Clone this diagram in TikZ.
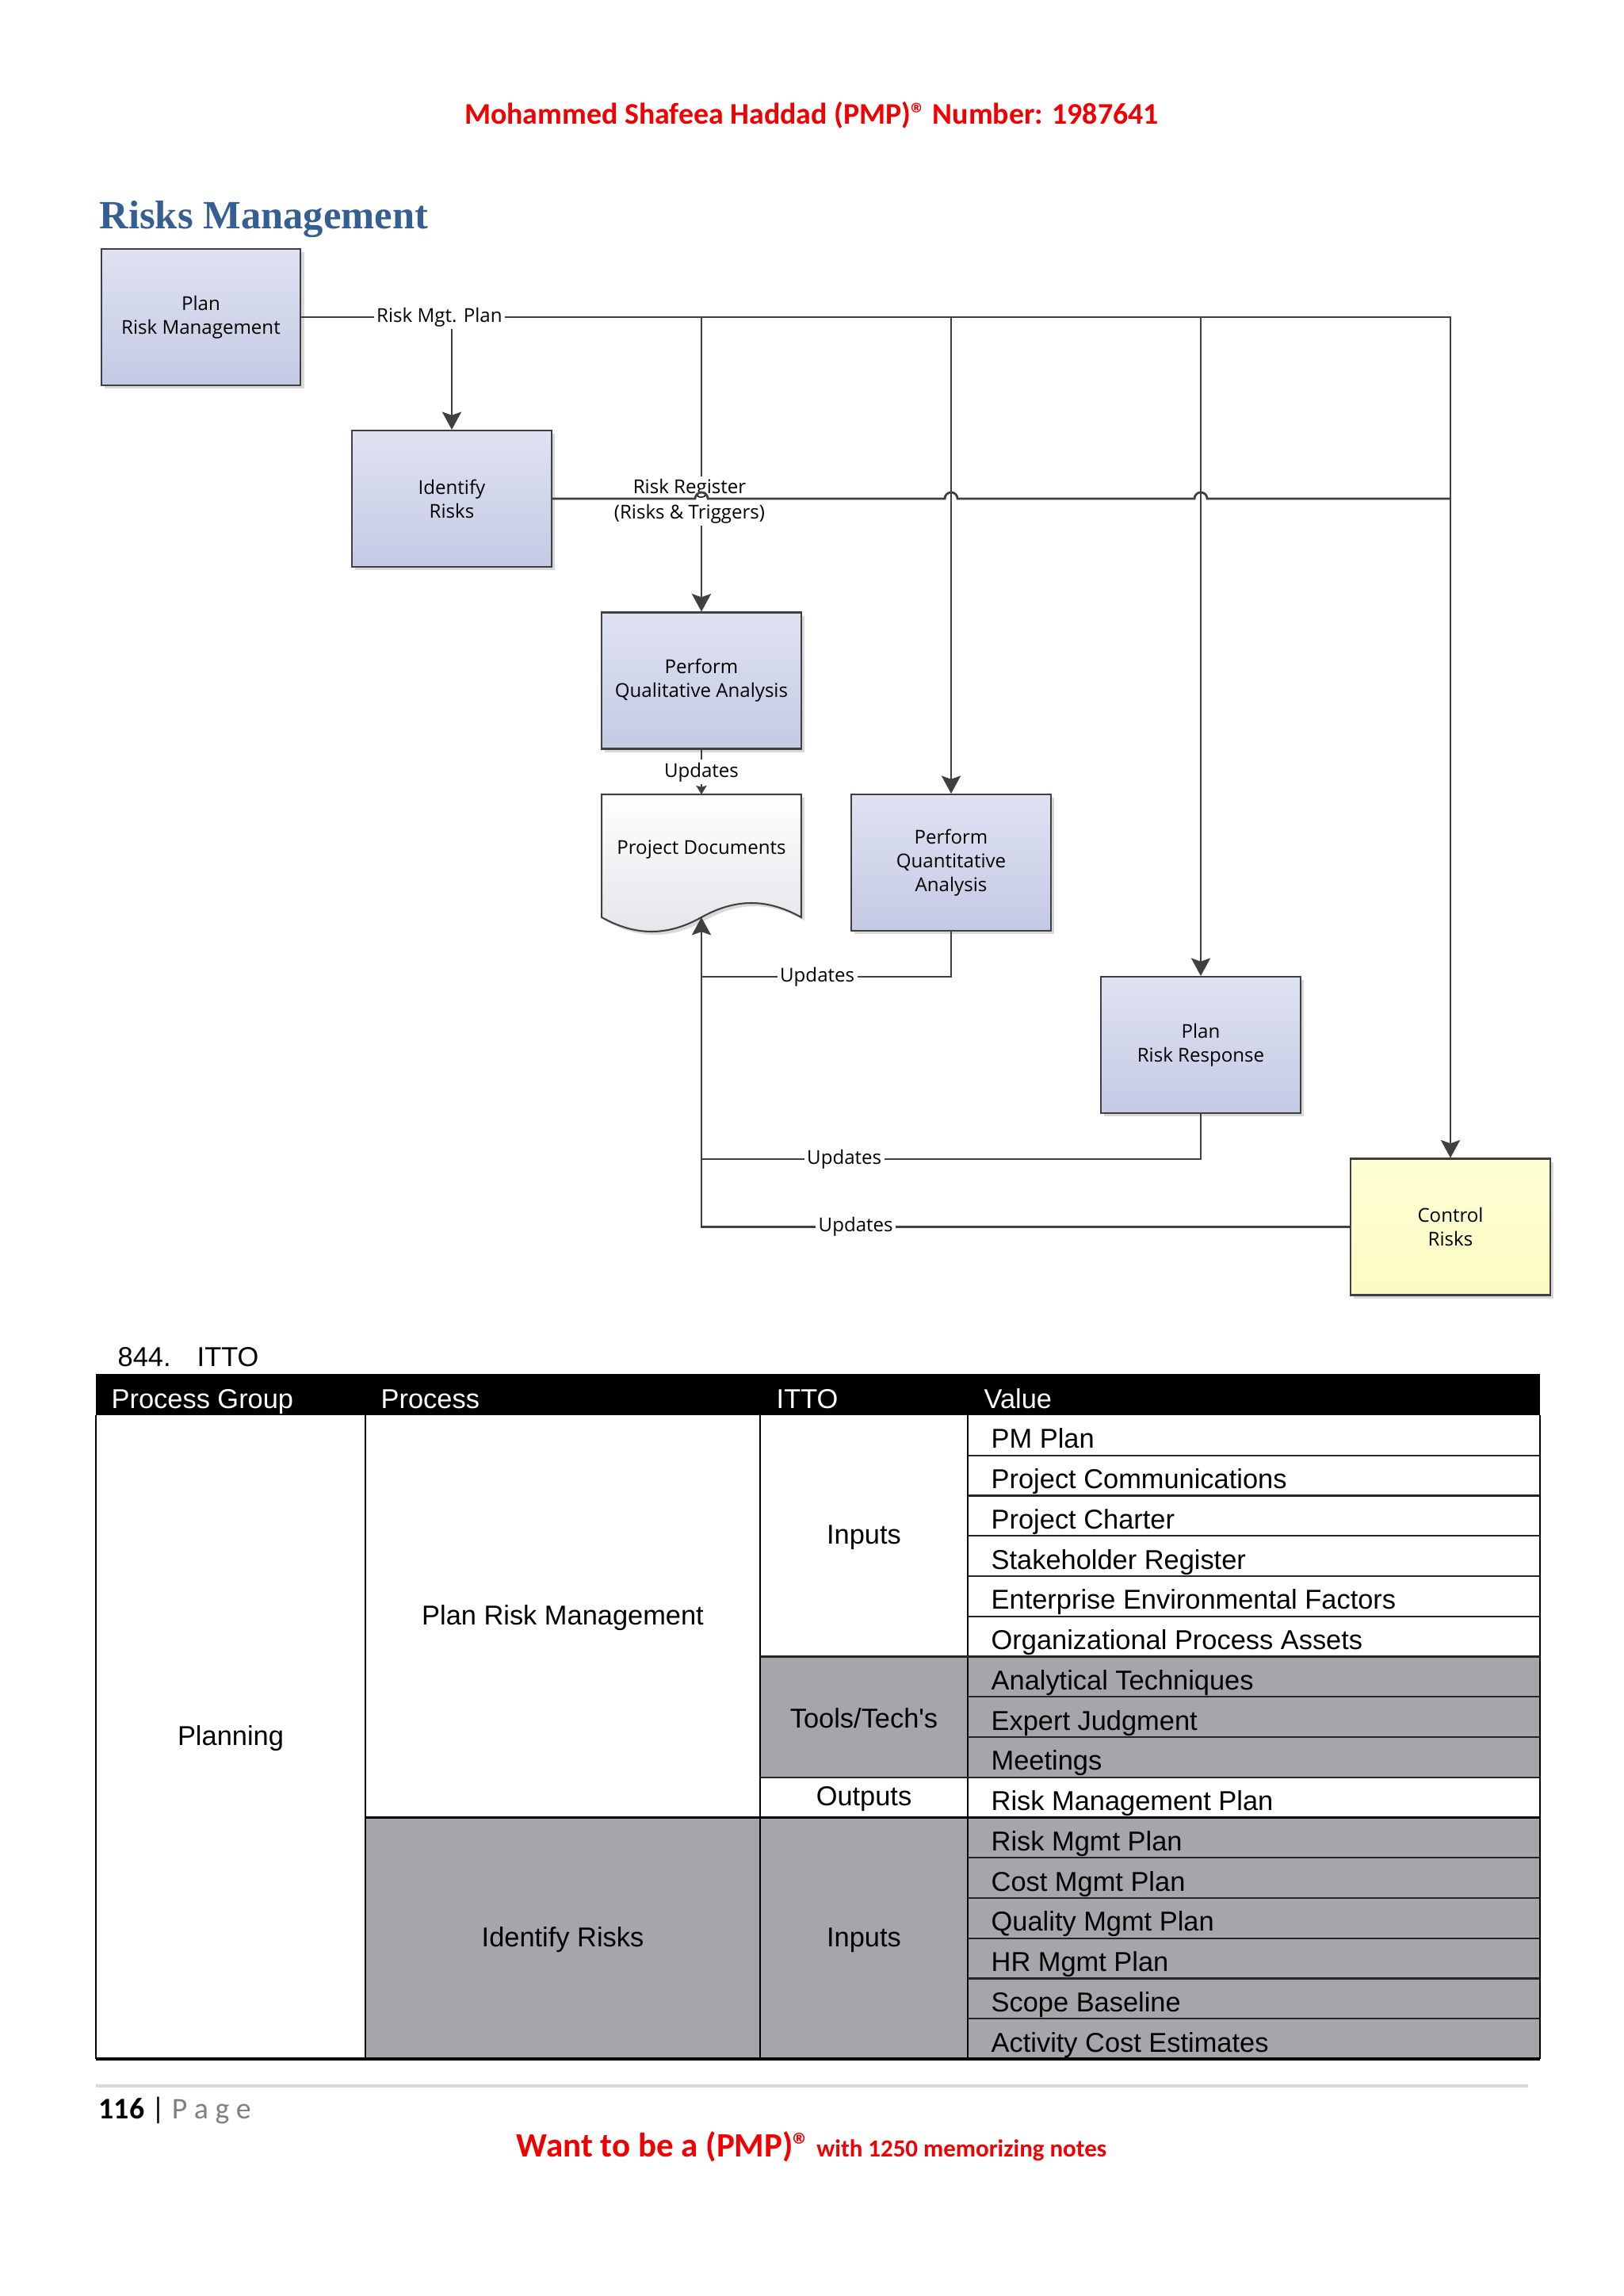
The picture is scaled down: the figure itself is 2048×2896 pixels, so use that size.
\documentclass[tikz,border=0pt]{standalone}
\usepackage{fontspec}
\setmainfont{Carlito}
\newfontfamily\boxfont{Open Sans}
\newfontfamily\tablefont{Liberation Sans}
\newfontfamily\headfont{Liberation Serif}
\usepackage{xcolor}
\usepackage{tikz}
\usetikzlibrary{arrows.meta,calc,shadows}
\definecolor{titleblue}{RGB}{54,95,145}
\definecolor{linegray}{RGB}{64,64,64}
\definecolor{boxtop}{RGB}{223,226,241}
\definecolor{boxbot}{RGB}{196,202,228}
\definecolor{ctltop}{RGB}{255,255,214}
\definecolor{ctlbot}{RGB}{251,251,194}
\definecolor{doctop}{RGB}{255,255,255}
\definecolor{docbot}{RGB}{228,228,234}
\definecolor{cellgray}{RGB}{166,165,170}
\definecolor{pmpred}{RGB}{240,0,0}
\newcommand{\boxsize}{\boxfont\fontsize{7pt}{8.7pt}\selectfont}
\newcommand{\tablesize}{\tablefont\fontsize{10pt}{12pt}\selectfont}
\tikzset{
  procbox/.style={rectangle, draw=linegray, line width=0.6pt,
                  minimum width=73.2pt, minimum height=50pt,
                  align=center, font=\boxsize, top color=#1top, bottom color=#1bot,
                  drop shadow={shadow xshift=1.2pt, shadow yshift=-1.2pt, opacity=0.15, fill=black}},
  procbox/.default=box,
  lbl/.style={fill=white, inner sep=1pt, font=\boxsize},
  conn/.style={draw=linegray, line width=0.8pt},
  arr/.style={conn, -{Stealth[length=6.5pt, width=7pt, inset=1.2pt]}},
  smallarr/.style={conn, -{Stealth[length=3.2pt, width=3.8pt, inset=0.5pt]}},
  cell/.style={font=\tablesize, inner sep=0pt},
  rowrule/.style={line width=0.7pt, draw=black!85},
  colrule/.style={line width=0.5pt, draw=black},
}

\begin{document}
\begin{tikzpicture}[x=0.29066pt, y=-0.29066pt]
  % page
  \fill[white] (0,0) rectangle (2048,2896);
  \useasboundingbox (0,0) rectangle (2048,2896);
  % page header and title
  \node[anchor=base, text=pmpred, font=\bfseries\fontsize{11pt}{13pt}\selectfont] (author) at (1024,156) {Mohammed Shafeea Haddad (PMP)® Number: 1987641};
  \node[anchor=base west, inner sep=0pt, text=titleblue, font=\headfont\bfseries\fontsize{14.7pt}{17pt}\selectfont] (title) at (125,288) {Risks Management};
  % process boxes
  \node[procbox] (prm)   at (253.5,400)  {Plan\\Risk Management};
  \node[procbox] (ir)    at (570,629)    {Identify\\Risks};
  \node[procbox] (qual)  at (885,858.5)  {Perform\\Qualitative Analysis};
  \node[procbox] (quant) at (1200,1088)  {Perform\\Quantitative\\Analysis};
  \node[procbox] (prr)   at (1515,1318)  {Plan\\Risk Response};
  \node[procbox=ctl] (cr) at (1830,1547.5) {Control\\Risks};
  % project documents (document shape)
  \node[minimum width=73.2pt, minimum height=45.05pt, inner sep=0pt, outer sep=0pt] (pd) at (885,1079.5) {};
  \draw[draw=linegray, line width=0.6pt, top color=doctop, bottom color=docbot,
        drop shadow={shadow xshift=1.2pt, shadow yshift=-1.2pt, opacity=0.15, fill=black}]
    (pd.north west) -- (pd.north east) -- (pd.south east)
    .. controls ($(pd.south east)+(-43,-24)$) and ($(pd.south)+(43,-24)$) .. (pd.south)
    .. controls ($(pd.south)+(-43,24)$) and ($(pd.south west)+(43,24)$) .. (pd.south west) -- cycle;
  \node[font=\boxsize] (pdtext) at ($(pd.center)+(0,-8)$) {Project Documents};
  % risk management plan feeds every later process
  \draw[arr] (ir.north |- prm.east) -- (ir.north);
  \draw[arr] (qual.north |- prm.east) -- (qual.north);
  \draw[arr] (quant.north |- prm.east) -- (quant.north);
  \draw[arr] (prr.north |- prm.east) -- (prr.north);
  \draw[arr] (prm.east) -| (cr.north) node[lbl, pos=0.06] (rmp) {Risk Mgt. Plan};
  % risk register hops over the plan lines
  \node[lbl, font=\boxfont\fontsize{7pt}{9.3pt}\selectfont, align=center] (rr) at (870,632) {Risk Register\\(Risks \& Triggers)};
  \draw[conn] (ir.east) -- ($(qual.north |- ir.east)+(-8,0)$) arc[start angle=180, end angle=360, radius=8]
    -- ($(quant.north |- ir.east)+(-8,0)$) arc[start angle=180, end angle=360, radius=8]
    -- ($(prr.north |- ir.east)+(-8,0)$) arc[start angle=180, end angle=360, radius=8]
    -- (cr.north |- ir.east);
  % updates back into the project documents
  \draw[smallarr] (qual.south) -- node[lbl] (upd1) {Updates} (pd.north);
  \coordinate (jq) at (885,1232);
  \coordinate (jr) at (885,1462);
  \draw[conn] (quant.south) |- (jq) node[lbl, pos=0.768] (upd2) {Updates};
  \draw[conn] (prr.south) |- (jr) node[lbl, pos=0.857] (upd3) {Updates};
  \draw[arr] (cr.west) -| (pd.south) node[lbl, pos=0.381] (upd4) {Updates};

  % ITTO table
  \node[cell, anchor=base west] (itemno) at (148,1723) {844.};
  \node[cell, anchor=base west] (itemname) at (248,1723) {ITTO};
  \fill[black] (121,1733) rectangle (1943,1785);
  \fill[cellgray] (959,2089.5) rectangle (1943,2241.75);
  \fill[cellgray] (461,2292.5) rectangle (1943,2597);
  \draw[colrule] (121,1785) -- (121,2597) (461,1785) -- (461,2597) (959,1785) -- (959,2597)
    (1221,1785) -- (1221,2597) (1943,1785) -- (1943,2597);
  \draw[rowrule] (1221,1835.75) -- (1943,1835.75) (1221,1886.5) -- (1943,1886.5)
    (1221,1937.25) -- (1943,1937.25) (1221,1988) -- (1943,1988)
    (1221,2038.75) -- (1943,2038.75) (959,2089.5) -- (1943,2089.5)
    (1221,2140.25) -- (1943,2140.25) (1221,2191) -- (1943,2191)
    (959,2241.75) -- (1943,2241.75) (1221,2343.25) -- (1943,2343.25)
    (1221,2394) -- (1943,2394) (1221,2444.75) -- (1943,2444.75)
    (1221,2495.5) -- (1943,2495.5) (1221,2546.25) -- (1943,2546.25);
  \draw[line width=1pt] (461,2292.5) -- (1943,2292.5) (121,2597) -- (1943,2597);
  \node[cell, anchor=base west, text=white] (hgroup) at (140,1776) {Process Group};
  \node[cell, anchor=base west, text=white] (hproc) at (480,1776) {Process};
  \node[cell, anchor=base west, text=white] (hitto) at (979,1776) {ITTO};
  \node[cell, anchor=base west, text=white] (hvalue) at (1241,1776) {Value};
  \node[cell] (planning) at (291,2193) {Planning};
  \node[cell] (prmcell) at (710,2040.5) {Plan Risk Management};
  \node[cell] (ircell) at (710,2446.75) {Identify Risks};
  \node[cell] (inputs) at (1090,1939.25) {Inputs};
  \node[cell] (tools) at (1090,2167.6) {Tools/Tech's};
  \node[cell] (outputs) at (1090,2269) {Outputs};
  \node[cell] (irinputs) at (1090,2446.75) {Inputs};
  \node[cell, anchor=base west] (v1) at (1250,1826.75) {PM Plan};
  \node[cell, anchor=base west] (v2) at (1250,1877.5) {Project Communications};
  \node[cell, anchor=base west] (v3) at (1250,1928.25) {Project Charter};
  \node[cell, anchor=base west] (v4) at (1250,1979) {Stakeholder Register};
  \node[cell, anchor=base west] (v5) at (1250,2029.75) {Enterprise Environmental Factors};
  \node[cell, anchor=base west] (v6) at (1250,2080.5) {Organizational Process Assets};
  \node[cell, anchor=base west] (v7) at (1250,2131.25) {Analytical Techniques};
  \node[cell, anchor=base west] (v8) at (1250,2182) {Expert Judgment};
  \node[cell, anchor=base west] (v9) at (1250,2232.75) {Meetings};
  \node[cell, anchor=base west] (v10) at (1250,2283.5) {Risk Management Plan};
  \node[cell, anchor=base west] (v11) at (1250,2334.25) {Risk Mgmt Plan};
  \node[cell, anchor=base west] (v12) at (1250,2385) {Cost Mgmt Plan};
  \node[cell, anchor=base west] (v13) at (1250,2435.75) {Quality Mgmt Plan};
  \node[cell, anchor=base west] (v14) at (1250,2486.5) {HR Mgmt Plan};
  \node[cell, anchor=base west] (v15) at (1250,2537.25) {Scope Baseline};
  \node[cell, anchor=base west] (v16) at (1250,2588) {Activity Cost Estimates};

  % page footer
  \draw[gray!30, line width=1pt] (121,2631) -- (1928,2631);
  \node[anchor=base west, inner sep=0pt, font=\fontsize{11pt}{13pt}\selectfont] (pageno) at (124,2672) {\textbf{116} | \textcolor{gray}{P a g e}};
  \node[anchor=base, text=pmpred, font=\bfseries] (promo) at (1024,2720) {{\fontsize{12.5pt}{15pt}\selectfont Want to be a (PMP)®} {\fontsize{9pt}{11pt}\selectfont with 1250 memorizing notes}};
\end{tikzpicture}
\end{document}
